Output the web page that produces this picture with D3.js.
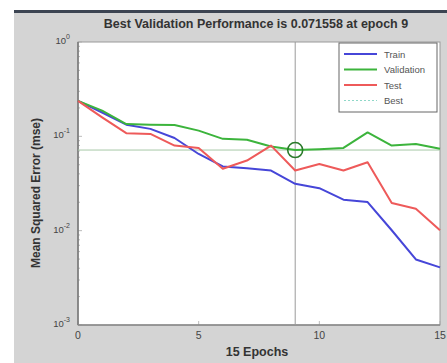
<!DOCTYPE html>
<head>
  <meta charset="utf-8">
  <script src="https://d3js.org/d3.v7.min.js"></script>
  <style>
    body { margin:0; background:#fff; }
    svg { display:block; }
    text { font-family: "Liberation Sans", Arial, sans-serif; }
  </style>
</head>
<body>
<script>
  var width = 447, height = 363;

  // performance per epoch (mse)
  var epochs = d3.range(0, 16);
  var train = [0.238, 0.179, 0.133, 0.120, 0.096, 0.065, 0.048, 0.046, 0.0434, 0.0314, 0.0282, 0.0213, 0.0201, 0.0101, 0.00495, 0.00408];
  var validation = [0.238, 0.187, 0.135, 0.133, 0.132, 0.115, 0.094, 0.092, 0.078, 0.071558, 0.073, 0.0754, 0.110, 0.0798, 0.083, 0.0738];
  var test = [0.238, 0.159, 0.108, 0.106, 0.0798, 0.0754, 0.0453, 0.0554, 0.0798, 0.0434, 0.051, 0.0434, 0.0532, 0.0196, 0.0171, 0.0101];
  var bestEpoch = 9, bestValue = 0.071558;
  var xTicks = [0, 5, 10, 15];
  var yTicks = [1e-3, 1e-2, 1e-1, 1e0];
  var yExp = ["-3", "-2", "-1", "0"];

  var series = [
    {name: "Train", values: train, color: "#4646d8"},
    {name: "Validation", values: validation, color: "#3cb43c"},
    {name: "Test", values: test, color: "#ee5a5a"}
  ];

  // plot box (note: "top" is taken by window.top)
  var pLeft = 78, pRight = 440, pTop = 42, pBottom = 325;

  var svg = d3.select("body").append("svg")
    .attr("width", width).attr("height", height);

  // window frame
  svg.append("rect").attr("x", 14).attr("y", 10).attr("width", width - 14).attr("height", height - 10)
    .attr("fill", "#d4d4d4");
  svg.append("rect").attr("x", 14).attr("y", 10).attr("width", width - 14).attr("height", 3)
    .attr("fill", "#3c4452");

  var x = d3.scaleLinear().domain([0, 15]).range([pLeft, pRight]);
  var y = d3.scaleLog().domain([1e-3, 1]).range([pBottom, pTop]);

  svg.append("rect").attr("x", pLeft).attr("y", pTop)
    .attr("width", pRight - pLeft).attr("height", pBottom - pTop)
    .attr("fill", "#fff").attr("stroke", "#9a9a9a").attr("stroke-width", 1);

  // minor log ticks
  var minor = [];
  for (var d = -3; d < 0; d++) for (var m = 2; m < 10; m++) minor.push(m * Math.pow(10, d));
  svg.selectAll(".ytk").data(minor.concat(yTicks)).enter().append("line")
    .attr("x1", pLeft).attr("x2", function(v) { return yTicks.indexOf(v) >= 0 ? pLeft + 4 : pLeft + 2; })
    .attr("y1", function(v) { return y(v); }).attr("y2", function(v) { return y(v); })
    .attr("stroke", "#aaa").attr("stroke-width", 0.8);
  svg.selectAll(".xtk").data(xTicks).enter().append("line")
    .attr("x1", function(v) { return x(v); }).attr("x2", function(v) { return x(v); })
    .attr("y1", pBottom).attr("y2", pBottom - 4)
    .attr("stroke", "#aaa").attr("stroke-width", 0.8);

  // axis lines
  svg.append("line").attr("x1", pLeft).attr("x2", pLeft).attr("y1", pTop).attr("y2", pBottom)
    .attr("stroke", "#777").attr("stroke-width", 1.5);
  svg.append("line").attr("x1", pLeft).attr("x2", pRight).attr("y1", pBottom).attr("y2", pBottom)
    .attr("stroke", "#888").attr("stroke-width", 1.5);

  // tick labels
  svg.selectAll(".xl").data(xTicks).enter().append("text")
    .attr("x", function(v) { return x(v); }).attr("y", pBottom + 14)
    .attr("text-anchor", "middle").attr("font-size", 10.5).attr("fill", "#444")
    .text(function(v) { return v; });
  var yl = svg.selectAll(".yl").data(yTicks).enter().append("text")
    .attr("x", pLeft - 8).attr("y", function(v) { return y(v) + 2; })
    .attr("text-anchor", "end").attr("font-size", 9.5).attr("fill", "#444");
  yl.append("tspan").text("10");
  yl.append("tspan").attr("dy", -5).attr("font-size", 7).text(function(v, i) { return yExp[i]; });

  // best lines
  svg.append("line").attr("x1", x(bestEpoch)).attr("x2", x(bestEpoch)).attr("y1", pTop).attr("y2", pBottom)
    .attr("stroke", "#9a9a9a").attr("stroke-width", 1);
  svg.append("line").attr("x1", pLeft).attr("x2", pRight).attr("y1", y(bestValue)).attr("y2", y(bestValue))
    .attr("stroke", "#a8c8a8").attr("stroke-width", 1);

  var line = d3.line().x(function(d, i) { return x(epochs[i]); }).y(function(d) { return y(d); });
  svg.selectAll(".series").data(series).enter().append("path")
    .attr("d", function(s) { return line(s.values); })
    .attr("fill", "none").attr("stroke", function(s) { return s.color; })
    .attr("stroke-width", 2).attr("stroke-linejoin", "round");

  svg.append("circle").attr("cx", x(bestEpoch)).attr("cy", y(bestValue)).attr("r", 7.5)
    .attr("fill", "none").attr("stroke", "#2a7a2a").attr("stroke-width", 1.6);

  // legend
  var lg = svg.append("g").attr("transform", "translate(339,43)");
  lg.append("rect").attr("width", 98).attr("height", 69)
    .attr("fill", "#fff").attr("stroke", "#666").attr("stroke-width", 1);
  var legendItems = series.concat([{name: "Best", color: "#8fd8c8", dash: "2,2"}]);
  legendItems.forEach(function(s, i) {
    var yy = 11 + i * 15.5;
    lg.append("line").attr("x1", 5).attr("x2", 38).attr("y1", yy).attr("y2", yy)
      .attr("stroke", s.color).attr("stroke-width", s.dash ? 1 : 2)
      .attr("stroke-dasharray", s.dash || null);
    lg.append("text").attr("x", 45).attr("y", yy + 3.5).attr("font-size", 9.5).attr("fill", "#555")
      .text(s.name);
  });

  // titles
  svg.append("text").attr("x", 256).attr("y", 28)
    .attr("text-anchor", "middle").attr("font-size", 12.5).attr("font-weight", "bold").attr("fill", "#333")
    .text("Best Validation Performance is 0.071558 at epoch 9");
  svg.append("text").attr("x", 257).attr("y", 356)
    .attr("text-anchor", "middle").attr("font-size", 12.5).attr("font-weight", "bold").attr("fill", "#333")
    .text("15 Epochs");
  svg.append("text").attr("transform", "translate(40,193) rotate(-90)")
    .attr("text-anchor", "middle").attr("font-size", 12).attr("font-weight", "bold").attr("fill", "#333")
    .text("Mean Squared Error  (mse)");
</script>
</body>
